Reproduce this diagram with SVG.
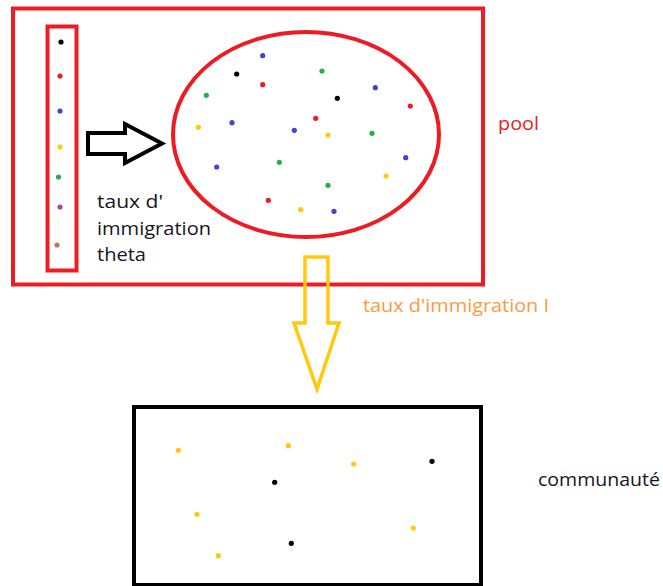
<svg xmlns="http://www.w3.org/2000/svg" width="663" height="586" viewBox="0 0 663 586">
<style>
.red{fill:none;stroke:#ed1c24;stroke-width:4}
.lbl{font-family:"Open Sans","Noto Sans",sans-serif;font-size:18px}
.dk{fill:#16161e}
circle{r:2.6}
.k{fill:#000}.r{fill:#ed1c24}.b{fill:#3f48cc}.y{fill:#ffc90e}.g{fill:#22b14c}.p{fill:#a349a4}.br{fill:#b97a57}
</style>
<rect width="663" height="586" fill="#fff"/>
<g id="pool">
<rect class="red" x="13" y="8.5" width="470" height="276"/>
<text class="lbl" x="498" y="130" fill="#ed1c24" textLength="41" lengthAdjust="spacingAndGlyphs">pool</text>
</g>
<g id="species-list">
<rect class="red" x="47.5" y="26.5" width="29" height="244" stroke-width="4.5"/>
<circle class="k" cx="61" cy="42" r="2.6"/>
<circle class="r" cx="60" cy="76" r="2.6"/>
<circle class="b" cx="60" cy="111" r="2.6"/>
<circle class="y" cx="60" cy="147" r="2.6"/>
<circle class="g" cx="58.5" cy="177" r="2.6"/>
<circle class="p" cx="60" cy="207" r="2.6"/>
<circle class="br" cx="57" cy="245" r="2.6"/>
</g>
<g id="theta-label">
<text class="lbl dk" x="97" y="208" textLength="66" lengthAdjust="spacingAndGlyphs">taux d'</text>
<text class="lbl dk" x="97" y="235" textLength="114" lengthAdjust="spacingAndGlyphs">immigration</text>
<text class="lbl dk" x="97" y="261" textLength="49" lengthAdjust="spacingAndGlyphs">theta</text>
</g>
<g id="pool-ellipse">
<ellipse class="red" cx="306" cy="134.5" rx="133" ry="102.5"/>
<circle class="b" cx="262.7" cy="55.7" r="2.6"/>
<circle class="k" cx="236.7" cy="74" r="2.6"/>
<circle class="g" cx="322" cy="71" r="2.6"/>
<circle class="r" cx="262.7" cy="84.7" r="2.6"/>
<circle class="g" cx="206.3" cy="95.3" r="2.6"/>
<circle class="b" cx="375.3" cy="87.7" r="2.6"/>
<circle class="k" cx="337.3" cy="98.3" r="2.6"/>
<circle class="r" cx="410.3" cy="106" r="2.6"/>
<circle class="r" cx="315.7" cy="118.3" r="2.6"/>
<circle class="y" cx="198.3" cy="127.3" r="2.6"/>
<circle class="b" cx="232" cy="122.7" r="2.6"/>
<circle class="b" cx="294.3" cy="130.3" r="2.6"/>
<circle class="y" cx="328" cy="135" r="2.6"/>
<circle class="g" cx="372" cy="133.3" r="2.6"/>
<circle class="b" cx="405.7" cy="157.7" r="2.6"/>
<circle class="b" cx="216.7" cy="167" r="2.6"/>
<circle class="g" cx="279.3" cy="162.3" r="2.6"/>
<circle class="y" cx="386" cy="176" r="2.6"/>
<circle class="g" cx="328" cy="185.3" r="2.6"/>
<circle class="r" cx="268.3" cy="200.3" r="2.6"/>
<circle class="y" cx="300.7" cy="209.7" r="2.6"/>
<circle class="b" cx="334" cy="211.3" r="2.6"/>
</g>
<g id="community">
<rect x="134" y="407" width="347" height="178" fill="none" stroke="#000" stroke-width="4"/>
<circle class="y" cx="178.3" cy="450.3" r="2.6"/>
<circle class="y" cx="288.3" cy="445.7" r="2.6"/>
<circle class="y" cx="353.7" cy="464" r="2.6"/>
<circle class="k" cx="432" cy="461.3" r="2.6"/>
<circle class="k" cx="274.7" cy="482.3" r="2.6"/>
<circle class="y" cx="197" cy="514.3" r="2.6"/>
<circle class="y" cx="413.3" cy="528" r="2.6"/>
<circle class="k" cx="291.3" cy="543.3" r="2.6"/>
<circle class="y" cx="218.3" cy="555.7" r="2.6"/>
<text class="lbl dk" x="538" y="485.5" textLength="122" lengthAdjust="spacingAndGlyphs">communauté</text>
</g>
<g id="connectors">
<polygon points="88,133 125,133 125,124 162,143.5 125,163 125,154 88,154" fill="none" stroke="#000" stroke-width="4" stroke-linejoin="miter"/>
<polygon points="305,257 328,257 328,323 339,323 317,389 294,323 305,323" fill="none" stroke="#ffc90e" stroke-width="3.5" stroke-linejoin="miter"/>
<text class="lbl" x="363" y="311.5" fill="#ff9a40" textLength="186" lengthAdjust="spacingAndGlyphs">taux d'immigration I</text>
</g>
</svg>
